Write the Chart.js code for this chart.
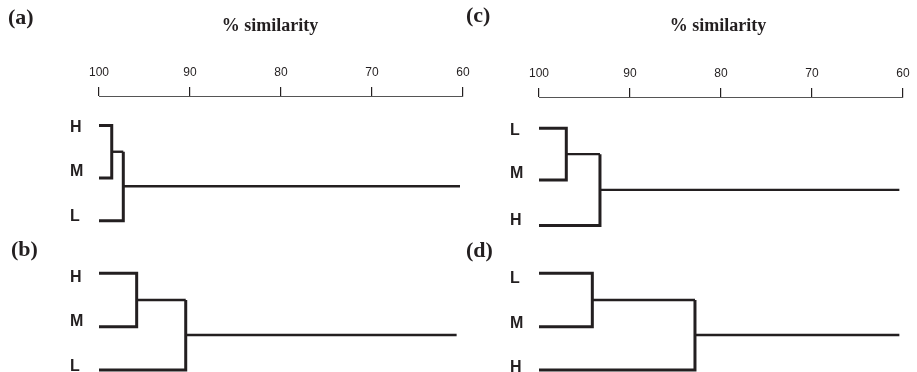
<!DOCTYPE html>
<html>
<head>
<meta charset="utf-8">
<script src="https://cdn.jsdelivr.net/npm/chart.js@4"></script>
<style>
  html, body { margin: 0; padding: 0; background: #fff; }
  #wrap { position: relative; width: 917px; height: 372px; overflow: hidden; background: #fff; }
  canvas { position: absolute; top: 0; }
  .lbl { position: absolute; font-family: "Liberation Serif", "Times New Roman", serif; font-weight: bold; color: #231f20; white-space: nowrap; }
  .panel { font-size: 22px; line-height: 24px; }
  .ttl { font-size: 18px; line-height: 20px; transform: translateX(-50%); }
</style>
</head>
<body>
<div id="wrap">
  <canvas id="left" width="480" height="372" style="left:0px"></canvas>
  <canvas id="right" width="457" height="372" style="left:460px"></canvas>
  <div class="lbl panel" style="left:8px; top:5px">(a)</div>
  <div class="lbl panel" style="left:466px; top:3px">(c)</div>
  <div class="lbl panel" style="left:11px; top:237px">(b)</div>
  <div class="lbl panel" style="left:466px; top:238px">(d)</div>
  <div class="lbl ttl" style="left:270px; top:15px">% similarity</div>
  <div class="lbl ttl" style="left:718px; top:15px">% similarity</div>
</div>
<script>
// ---- data ----
const simTicks = [100, 90, 80, 70, 60];

// (a)
const leavesA = ["H", "M", "L"];
const barRowsA = [1.01, 1.99, 2.79];
const labelRowsA = [1.056, 1.879, 2.71];
const mergesA = [98.6, 97.33];
const rootEndA = 60.33;

// (b)
const leavesB = ["H", "M", "L"];
const barRowsB = [3.77, 4.77, 5.58];
const labelRowsB = [3.85, 4.67, 5.52];
const mergesB = [95.86, 90.47];
const rootEndB = 60.7;

// (c)
const leavesC = ["L", "M", "H"];
const barRowsC = [1.06, 2.03, 2.88];
const labelRowsC = [1.11, 1.91, 2.78];
const mergesC = [97.0, 93.3];
const rootEndC = 60.4;

// (d)
const leavesD = ["L", "M", "H"];
const barRowsD = [3.77, 4.77, 5.58];
const labelRowsD = [3.88, 4.71, 5.54];
const mergesD = [94.14, 82.86];
const rootEndD = 60.4;

const INK = "#231f20";

function dendroDatasets(rows, merges, rootEnd) {
  const [r0, r1, r2] = rows;
  const [m1, m2] = merges;
  const mid01 = (r0 + r1) / 2;
  const rootY = (mid01 + r2) / 2;
  const base = { showLine: true, pointRadius: 0, pointHoverRadius: 0, fill: false,
    borderColor: INK, borderCapStyle: "butt", borderJoinStyle: "miter", tension: 0, clip: false };
  return [
    Object.assign({}, base, { borderWidth: 3, data: [{x:100,y:r0},{x:m1,y:r0},{x:m1,y:r1},{x:100,y:r1}] }),
    Object.assign({}, base, { borderWidth: 3, data: [{x:100,y:r2},{x:m2,y:r2},{x:m2,y:mid01}] }),
    Object.assign({}, base, { borderWidth: 2.4, data: [{x:m1,y:mid01},{x:m2,y:mid01}] }),
    Object.assign({}, base, { borderWidth: 2.4, data: [{x:m2,y:rootY},{x:rootEnd,y:rootY}] })
  ];
}

function makeChart(id, cfg) {
  const labelRows = cfg.labelRows;
  const labelTexts = cfg.labelTexts;
  return new Chart(document.getElementById(id), {
    type: "scatter",
    data: { datasets: cfg.datasets },
    options: {
      responsive: false,
      animation: false,
      devicePixelRatio: 1,
      events: [],
      layout: { padding: { left: cfg.padLeft, right: cfg.padRight, top: 0, bottom: 0 } },
      plugins: { legend: { display: false }, tooltip: { enabled: false }, title: { display: false } },
      scales: {
        x: {
          type: "linear", position: "top", reverse: true,
          min: Math.min(...simTicks), max: Math.max(...simTicks),
          afterBuildTicks: (s) => { s.ticks = simTicks.map(v => ({ value: v })); },
          afterFit: (s) => { s.height = cfg.axisHeight; },
          ticks: { color: INK, padding: 7, maxRotation: 0, autoSkip: false,
            font: { family: "'Liberation Sans', Arial, sans-serif", size: 12 } },
          grid: { display: true, drawOnChartArea: false, drawTicks: true, tickLength: 9, color: INK, lineWidth: 1.2 },
          border: { display: true, color: "#555", width: 1 }
        },
        y: {
          type: "linear", position: "left", reverse: true,
          min: cfg.yMin, max: cfg.yMax,
          afterBuildTicks: (s) => { s.ticks = labelRows.map(v => ({ value: v })); },
          afterFit: (s) => { s.width = cfg.yWidth; s.paddingTop = 0; s.paddingBottom = 0; },
          ticks: { color: INK, padding: 0, crossAlign: "far", autoSkip: false,
            callback: (v, i) => labelTexts[i],
            font: { family: "'Liberation Sans', Arial, sans-serif", size: 16, weight: "bold" } },
          grid: { display: false },
          border: { display: false }
        }
      }
    }
  });
}

makeChart("left", {
  datasets: [...dendroDatasets(barRowsA, mergesA, rootEndA), ...dendroDatasets(barRowsB, mergesB, rootEndB)],
  labelRows: [...labelRowsA, ...labelRowsB],
  labelTexts: [...leavesA, ...leavesB],
  padLeft: 70, padRight: 17, yWidth: 29, axisHeight: 96,
  yMin: 0.4579, yMax: 5.6168
});

makeChart("right", {
  datasets: [...dendroDatasets(barRowsC, mergesC, rootEndC), ...dendroDatasets(barRowsD, mergesD, rootEndD)],
  labelRows: [...labelRowsC, ...labelRowsD],
  labelTexts: [...leavesC, ...leavesD],
  padLeft: 50, padRight: 14, yWidth: 29, axisHeight: 97,
  yMin: 0.4766, yMax: 5.6168
});
</script>
</body>
</html>
